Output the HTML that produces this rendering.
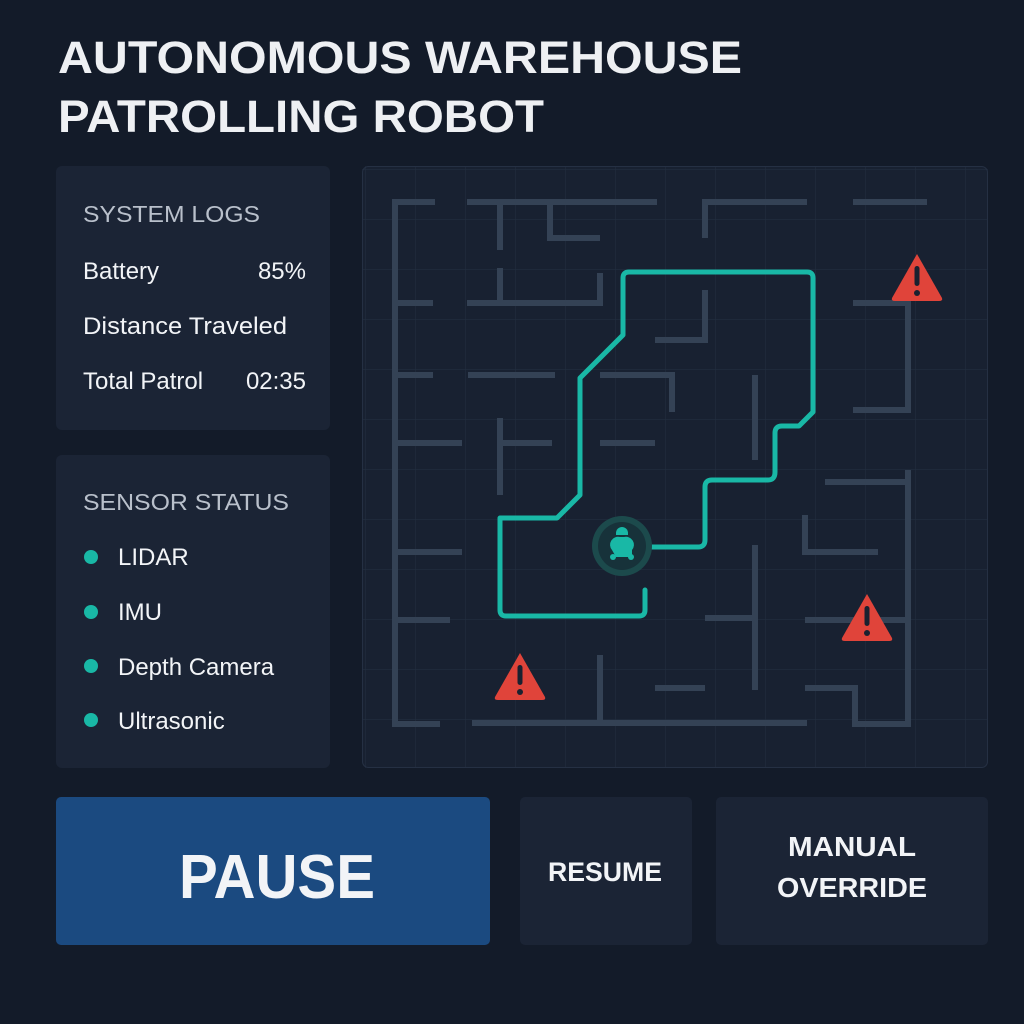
<!DOCTYPE html>
<html><head><meta charset="utf-8"><style>
html,body{margin:0;padding:0;background:#131b29;}
svg{display:block}
text{font-family:"Liberation Sans",sans-serif;}
</style></head><body>
<svg width="1024" height="1024" viewBox="0 0 1024 1024" xmlns="http://www.w3.org/2000/svg">
<defs>
<pattern id="g" x="366" y="170" width="50" height="50" patternUnits="userSpaceOnUse">
<path d="M50 0V50M0 50H50" stroke="#222d3e" stroke-width="1.2" fill="none"/>
</pattern>
<g id="warn"><path d="M0 -24 L25 20 Q26 23 22 23 L-22 23 Q-26 23 -25 20 Z" fill="#e0443a"/><rect x="-2.5" y="-12" width="5" height="20" rx="2.5" fill="#1a2130"/><circle cx="0" cy="15" r="3" fill="#1a2130"/></g>
</defs>
<rect width="1024" height="1024" fill="#131b29"/>
<text x="58" y="73" font-size="45" font-weight="bold" fill="#eef0f3" textLength="684" lengthAdjust="spacingAndGlyphs">AUTONOMOUS WAREHOUSE</text>
<text x="58" y="132" font-size="45" font-weight="bold" fill="#eef0f3" textLength="486" lengthAdjust="spacingAndGlyphs">PATROLLING ROBOT</text>

<rect x="56" y="166" width="274" height="264" rx="6" fill="#1b2435"/>
<text x="83" y="222" font-size="23" fill="#b9c0cb" textLength="177" lengthAdjust="spacingAndGlyphs">SYSTEM LOGS</text>
<text x="83" y="279" font-size="24" fill="#f2f4f7">Battery</text>
<text x="306" y="279" font-size="24" fill="#f2f4f7" text-anchor="end">85%</text>
<text x="83" y="334" font-size="24" fill="#f2f4f7" textLength="204" lengthAdjust="spacingAndGlyphs">Distance Traveled</text>
<text x="83" y="389" font-size="24" fill="#f2f4f7">Total Patrol</text>
<text x="306" y="389" font-size="24" fill="#f2f4f7" text-anchor="end">02:35</text>

<rect x="56" y="455" width="274" height="313" rx="6" fill="#1b2435"/>
<text x="83" y="510" font-size="23" fill="#b9c0cb" textLength="206" lengthAdjust="spacingAndGlyphs">SENSOR STATUS</text>
<g fill="#19b8a6"><circle cx="91" cy="557" r="7"/><circle cx="91" cy="612" r="7"/><circle cx="91" cy="666" r="7"/><circle cx="91" cy="720" r="7"/></g>
<g font-size="24" fill="#f2f4f7"><text x="118" y="565">LIDAR</text><text x="118" y="620">IMU</text><text x="118" y="675">Depth Camera</text><text x="118" y="729">Ultrasonic</text></g>

<rect x="362" y="166" width="626" height="602" rx="6" fill="#182131"/>
<rect x="362" y="166" width="626" height="602" fill="url(#g)"/>
<rect x="362.5" y="166.5" width="625" height="601" rx="6" fill="none" stroke="#253043"/>
<g stroke="#344255" stroke-width="6" fill="none" stroke-linecap="butt">
<path d="M435 202H395V724H440"/>
<path d="M467 202H657M500 202V250M550 202V238H600"/>
<path d="M807 202H705V238M853 202H927"/>
<path d="M395 303H433M467 303H600V273M500 268V303"/>
<path d="M705 290V340H655"/>
<path d="M395 375H433M468 375H555M600 375H672V412"/>
<path d="M755 375V460"/>
<path d="M853 303H908V410H853"/>
<path d="M395 443H462M500 443H552M600 443H655M500 418V495"/>
<path d="M395 552H462M395 620H450"/>
<path d="M472 723H807M600 655V723"/>
<path d="M825 482H908M908 470V724H855V688H805"/>
<path d="M805 515V552H878"/>
<path d="M755 545V690M705 618H755M805 620H908M655 688H705"/>
</g>
<path d="M645 590V610Q645 616 639 616H506Q500 616 500 610V518H557L580 495V378L623 335V278Q623 272 629 272H807Q813 272 813 278V412L799 426H782Q775 426 775 433V472Q775 480 768 480H712Q705 480 705 487V540Q705 547 698 547H652" fill="none" stroke="#19b8a6" stroke-width="5" stroke-linejoin="round" stroke-linecap="round"/>
<circle cx="622" cy="546" r="30" fill="#1c4a4c"/>
<circle cx="622" cy="546" r="24" fill="#17323a"/>
<g fill="#19b8a6"><path d="M616 533a6 6 0 0 1 12 0v2h-12z"/><path d="M612 550a8 8 0 0 1 8-13h4a8 8 0 0 1 8 13v7h-16z"/><circle cx="613" cy="557" r="3"/><circle cx="631" cy="557" r="3"/></g>
<use href="#warn" transform="translate(917,278)"/>
<use href="#warn" transform="translate(867,618)"/>
<use href="#warn" transform="translate(520,677)"/>

<rect x="56" y="797" width="434" height="148" rx="5" fill="#1b4a80"/>
<text x="277" y="898" font-size="62" font-weight="bold" fill="#f2f4f7" text-anchor="middle" textLength="196" lengthAdjust="spacingAndGlyphs">PAUSE</text>
<rect x="520" y="797" width="172" height="148" rx="5" fill="#1b2435"/>
<text x="605" y="881" font-size="27" font-weight="bold" fill="#f2f4f7" text-anchor="middle" textLength="114" lengthAdjust="spacingAndGlyphs">RESUME</text>
<rect x="716" y="797" width="272" height="148" rx="5" fill="#1b2435"/>
<text x="852" y="856" font-size="28" font-weight="bold" fill="#f2f4f7" text-anchor="middle" textLength="128" lengthAdjust="spacingAndGlyphs">MANUAL</text>
<text x="852" y="897" font-size="28" font-weight="bold" fill="#f2f4f7" text-anchor="middle" textLength="150" lengthAdjust="spacingAndGlyphs">OVERRIDE</text>
</svg>
</body></html>
